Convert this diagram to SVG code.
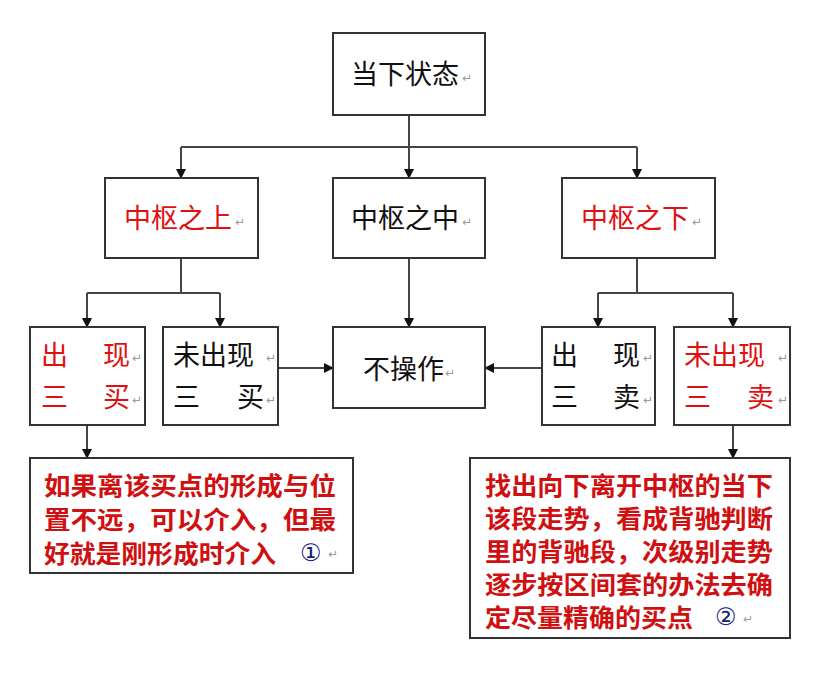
<svg xmlns="http://www.w3.org/2000/svg" width="836" height="675" viewBox="0 0 836 675">
<style>
.b{fill:#fff;stroke:#333;stroke-width:2}
.t{font-family:"Noto Sans CJK SC",sans-serif;font-size:27px;fill:#111}
.r{fill:#e01010}
.m{font-family:"DejaVu Sans",sans-serif;font-size:12px;fill:#999}
.p{font-family:"Noto Sans CJK SC",sans-serif;font-size:25px;font-weight:bold;fill:#d01010}
.c{font-family:"DejaVu Sans",sans-serif;font-size:24px;fill:#102080}
.l{fill:none;stroke:#444;stroke-width:2;marker-end:url(#a)}
.n{fill:none;stroke:#444;stroke-width:2}
</style>
<defs><marker id="a" markerWidth="10" markerHeight="10" refX="9" refY="5" orient="auto" markerUnits="userSpaceOnUse"><path d="M0,0L10,5L0,10z" fill="#111"/></marker></defs>
<rect width="836" height="675" fill="#fff"/>
<g id="connectors">
<path class="n" d="M409,115V147M181,147H637M181,258V293M87,293H220M637,258V293M598,293H733"/>
<path class="l" d="M181,147V178"/><path class="l" d="M409,147V178"/><path class="l" d="M637,147V178"/>
<path class="l" d="M87,293V327"/><path class="l" d="M220,293V327"/>
<path class="l" d="M598,293V327"/><path class="l" d="M733,293V327"/>
<path class="l" d="M409,258V327"/>
<path class="l" d="M278,368H333"/><path class="l" d="M542,368H485"/>
<path class="l" d="M87,425V458"/><path class="l" d="M733,425V458"/>
</g>
<g id="n0"><rect class="b" x="333" y="33" width="152" height="82"/><text class="t" x="351" y="84">当下状态</text><text class="m" x="462" y="82">↵</text></g>
<g id="n1"><rect class="b" x="105" y="178" width="153" height="80"/><text class="t r" x="124" y="228">中枢之上</text><text class="m" x="235" y="226">↵</text></g>
<g id="n2"><rect class="b" x="333" y="178" width="152" height="80"/><text class="t" x="351" y="228">中枢之中</text><text class="m" x="462" y="226">↵</text></g>
<g id="n3"><rect class="b" x="562" y="178" width="153" height="80"/><text class="t r" x="581" y="228">中枢之下</text><text class="m" x="692" y="226">↵</text></g>
<g id="n4"><rect class="b" x="30" y="327" width="115" height="98"/><text class="t r" x="41" y="365">出</text><text class="t r" x="103" y="365">现</text><text class="t r" x="41" y="407">三</text><text class="t r" x="103" y="407">买</text><text class="m" x="132" y="362">↵</text><text class="m" x="132" y="404">↵</text></g>
<g id="n5"><rect class="b" x="163" y="327" width="115" height="98"/><text class="t" x="173" y="365">未出现</text><text class="t" x="173" y="407">三</text><text class="t" x="237" y="407">买</text><text class="m" x="266" y="362">↵</text><text class="m" x="266" y="404">↵</text></g>
<g id="n6"><rect class="b" x="333" y="327" width="152" height="81"/><text class="t" x="363" y="379">不操作</text><text class="m" x="445" y="377">↵</text></g>
<g id="n7"><rect class="b" x="542" y="327" width="113" height="98"/><text class="t" x="551" y="365">出</text><text class="t" x="613" y="365">现</text><text class="t" x="551" y="407">三</text><text class="t" x="613" y="407">卖</text><text class="m" x="643" y="362">↵</text><text class="m" x="643" y="404">↵</text></g>
<g id="n8"><rect class="b" x="674" y="327" width="116" height="98"/><text class="t r" x="684" y="365">未出现</text><text class="t r" x="684" y="407">三</text><text class="t r" x="747" y="407">卖</text><text class="m" x="778" y="362">↵</text><text class="m" x="778" y="404">↵</text></g>
<g id="n9"><rect class="b" x="30" y="458" width="323" height="115"/>
<text class="p" x="44" y="495" textLength="292" lengthAdjust="spacingAndGlyphs">如果离该买点的形成与位</text>
<text class="p" x="44" y="529" textLength="292" lengthAdjust="spacingAndGlyphs">置不远，可以介入，但最</text>
<text class="p" x="44" y="563" textLength="232" lengthAdjust="spacingAndGlyphs">好就是刚形成时介入</text><text class="c" x="300" y="561">①</text><text class="m" x="328" y="558">↵</text></g>
<g id="n10"><rect class="b" x="470" y="458" width="320" height="180"/>
<text class="p" x="485" y="495" textLength="288" lengthAdjust="spacingAndGlyphs">找出向下离开中枢的当下</text>
<text class="p" x="485" y="528" textLength="288" lengthAdjust="spacingAndGlyphs">该段走势，看成背驰判断</text>
<text class="p" x="485" y="561" textLength="288" lengthAdjust="spacingAndGlyphs">里的背驰段，次级别走势</text>
<text class="p" x="485" y="594" textLength="288" lengthAdjust="spacingAndGlyphs">逐步按区间套的办法去确</text>
<text class="p" x="485" y="627" textLength="208" lengthAdjust="spacingAndGlyphs">定尽量精确的买点</text><text class="c" x="715" y="625">②</text><text class="m" x="743" y="623">↵</text></g>
</svg>
